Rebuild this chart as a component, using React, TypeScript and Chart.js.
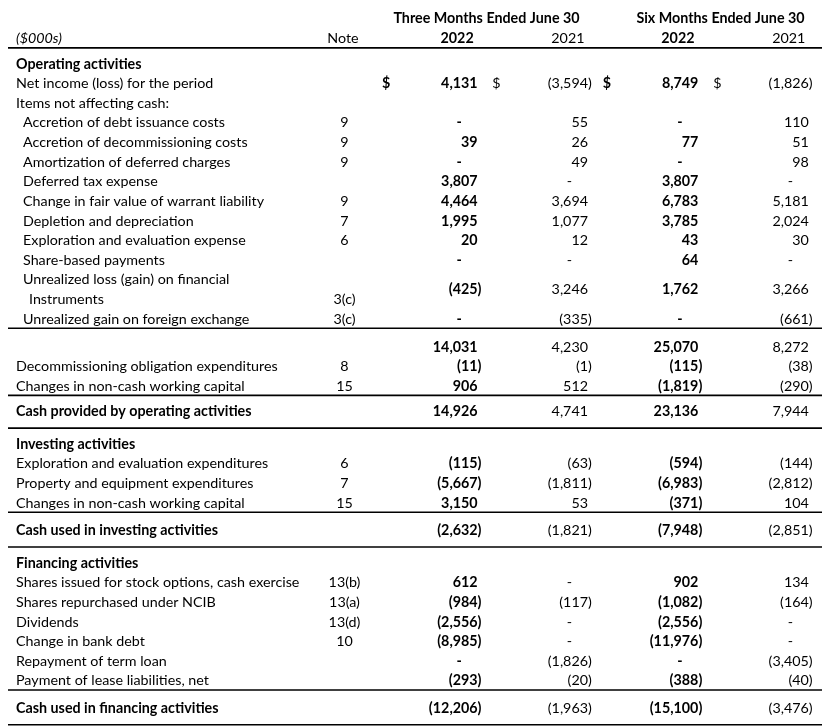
import React, { useEffect, useRef } from "react";
import { Chart, registerables } from "chart.js";

Chart.register(...registerables);

// ---------------- DATA ----------------
const unitLabel = "($000s)";
const noteHeader = "Note";
const periodHeaders = ["Three Months Ended June 30", "Six Months Ended June 30"];
const yearLabels = ["2022", "2021", "2022", "2021"];

const rowLabels: string[][] = [
  ["Operating activities"],
  ["Net income (loss) for the period"],
  ["Items not affecting cash:"],
  ["Accretion of debt issuance costs"],
  ["Accretion of decommissioning costs"],
  ["Amortization of deferred charges"],
  ["Deferred tax expense"],
  ["Change in fair value of warrant liability"],
  ["Depletion and depreciation"],
  ["Exploration and evaluation expense"],
  ["Share-based payments"],
  ["Unrealized loss (gain) on financial", "Instruments"],
  ["Unrealized gain on foreign exchange"],
  [""],
  ["Decommissioning obligation expenditures"],
  ["Changes in non-cash working capital"],
  ["Cash provided by operating activities"],
  ["Investing activities"],
  ["Exploration and evaluation expenditures"],
  ["Property and equipment expenditures"],
  ["Changes in non-cash working capital"],
  ["Cash used in investing activities"],
  ["Financing activities"],
  ["Shares issued for stock options, cash exercise"],
  ["Shares repurchased under NCIB"],
  ["Dividends"],
  ["Change in bank debt"],
  ["Repayment of term loan"],
  ["Payment of lease liabilities, net"],
  ["Cash used in financing activities"],
];

const rowNotes: string[] = [
  "", "", "", "9", "9", "9", "", "9", "7", "6", "", "3(c)", "3(c)", "", "8", "15",
  "", "", "6", "7", "15", "", "", "13(b)", "13(a)", "13(d)", "10", "", "", "",
];

type V = number | null | undefined; // null = "-", undefined = empty cell

const threeMonths2022: V[] = [
  undefined, 4131, undefined, null, 39, null, 3807, 4464, 1995, 20, null, -425, null,
  14031, -11, 906, 14926, undefined, -115, -5667, 3150, -2632, undefined,
  612, -984, -2556, -8985, null, -293, -12206,
];
const threeMonths2021: V[] = [
  undefined, -3594, undefined, 55, 26, 49, null, 3694, 1077, 12, null, 3246, -335,
  4230, -1, 512, 4741, undefined, -63, -1811, 53, -1821, undefined,
  null, -117, null, null, -1826, -20, -1963,
];
const sixMonths2022: V[] = [
  undefined, 8749, undefined, null, 77, null, 3807, 6783, 3785, 43, 64, 1762, null,
  25070, -115, -1819, 23136, undefined, -594, -6983, -371, -7948, undefined,
  902, -1082, -2556, -11976, null, -388, -15100,
];
const sixMonths2021: V[] = [
  undefined, -1826, undefined, 110, 51, 98, null, 5181, 2024, 30, null, 3266, -661,
  8272, -38, -290, 7944, undefined, -144, -2812, 104, -2851, undefined,
  134, -164, null, null, -3405, -40, -3476,
];

const columns: V[][] = [threeMonths2022, threeMonths2021, sixMonths2022, sixMonths2021];

// row roles
const sectionRows = [0, 17, 22];
const totalRows = [16, 21, 29];
const dollarRows = [1];
const rulesAfter = [12, 15, 16, 20, 21, 28, 29];

// ---------------- LAYOUT ----------------
const FONT = "Lato";
const SIZE = 14.3;
const gapBefore: Record<number, number> = { 13: 0.42, 16: 0.28, 17: 0.68, 21: 0.38, 22: 0.68, 29: 0.38 };
const indentRows = [3, 4, 5, 6, 7, 8, 9, 10, 11, 12];

const slots: number[] = [];
rowLabels.forEach((lines, i) => {
  if (i === 0) slots.push(0);
  else slots.push(slots[i - 1] + rowLabels[i - 1].length + (gapBefore[i] || 0));
});
const valueSlot = (i: number) => slots[i] + (rowLabels[i].length - 1) / 2;
const lastLineSlot = (i: number) => slots[i] + rowLabels[i].length - 1;

const fmt = (v: number) => {
  const s = Math.abs(v).toLocaleString("en-US");
  return v < 0 ? "(" + s : s;
};

const font = (bold: boolean, italic = false) =>
  `${italic ? "italic " : ""}${bold ? "bold " : ""}${SIZE}px ${FONT}`;

const tablePlugin = {
  id: "tableText",
  afterDatasetsDraw(chart: any) {
    const ctx: CanvasRenderingContext2D = chart.ctx;
    const xs = chart.scales.x;
    const ys = chart.scales.y;
    const L = chart.chartArea.left;
    ctx.save();
    ctx.fillStyle = "#000";
    ctx.textBaseline = "middle";

    // header
    const yH1 = ys.getPixelForValue(-2.34);
    const yH2 = ys.getPixelForValue(-1.33);
    ctx.font = font(true);
    ctx.textAlign = "center";
    ctx.fillText(periodHeaders[0], L + 486.5, yH1);
    ctx.fillText(periodHeaders[1], L + 720.5, yH1);
    ctx.font = font(false, true);
    ctx.textAlign = "left";
    ctx.fillText(unitLabel, L + 16, yH2);
    ctx.font = font(false);
    ctx.textAlign = "center";
    ctx.fillText(noteHeader, L + 343, yH2);
    yearLabels.forEach((lab, c) => {
      const px = xs.getPixelForValue(c);
      if (c % 2 === 0) {
        ctx.font = font(true);
        ctx.textAlign = "center";
        ctx.fillText(lab, px - 20.5, yH2);
      } else {
        ctx.font = font(false);
        ctx.textAlign = "right";
        ctx.fillText(lab, px - 3.5, yH2);
      }
    });

    // row labels + notes
    rowLabels.forEach((lines, i) => {
      const bold = sectionRows.includes(i) || totalRows.includes(i);
      ctx.font = font(bold);
      ctx.textAlign = "left";
      lines.forEach((t, k) => {
        let x = L + 16;
        if (indentRows.includes(i)) x = L + (k > 0 ? 29 : 23);
        ctx.fillText(t, x, ys.getPixelForValue(slots[i] + k));
      });
      if (rowNotes[i]) {
        ctx.font = font(false);
        ctx.textAlign = "center";
        ctx.fillText(rowNotes[i], L + 344.5, ys.getPixelForValue(lastLineSlot(i)));
      }
    });

    // values through dataset elements
    chart.data.datasets.forEach((ds: any, c: number) => {
      const meta = chart.getDatasetMeta(c);
      const bold = c % 2 === 0;
      meta.data.forEach((el: any, k: number) => {
        const pt = ds.data[k];
        const x = el.x;
        const y = el.y;
        ctx.font = font(bold);
        if (pt.v === null) {
          ctx.textAlign = "center";
          ctx.fillText("-", x - 18.5, y);
        } else {
          ctx.textAlign = "right";
          ctx.fillText(fmt(pt.v), x, y);
          if (pt.v < 0) {
            ctx.textAlign = "left";
            ctx.fillText(")", x, y);
          }
        }
        if (dollarRows.includes(pt.row)) {
          ctx.textAlign = "center";
          ctx.fillText("$", x - 91.5, y);
        }
      });
    });

    // rules
    ctx.strokeStyle = "#000";
    ctx.lineWidth = 1.6;
    const rule = (v: number) => {
      const y = ys.getPixelForValue(v);
      ctx.beginPath();
      ctx.moveTo(L + 8, y);
      ctx.lineTo(L + 822, y);
      ctx.stroke();
    };
    rule(-0.82);
    rulesAfter.forEach((i) => {
      rule(lastLineSlot(i) + (totalRows.includes(i) ? 0.86 : 0.47));
    });
    ctx.restore();
  },
};

export default function App() {
  const ref = useRef<HTMLCanvasElement | null>(null);
  useEffect(() => {
    if (!ref.current) return;
    const datasets = columns.map((col, c) => ({
      label: yearLabels[c],
      data: col
        .map((v, i) => ({ x: c, y: valueSlot(i), v, row: i }))
        .filter((p) => p.v !== undefined),
      pointRadius: 0,
      showLine: false,
    }));
    const chart = new Chart(ref.current, {
      type: "scatter",
      data: { datasets },
      options: {
        animation: false,
        responsive: false,
        events: [],
        layout: { padding: 0 },
        plugins: { legend: { display: false }, tooltip: { enabled: false }, title: { display: false } },
        scales: {
          x: { type: "linear", display: false, min: -477.6 / 110.4, max: -477.6 / 110.4 + 837 / 110.4 },
          y: { type: "linear", display: false, reverse: true, min: -64 / 19.62, max: (726 - 64) / 19.62 },
        },
      },
      plugins: [tablePlugin],
    } as any);
    return () => chart.destroy();
  }, []);
  return (
    <div style={{ position: "fixed", left: 0, top: 0, width: 837, height: 726, background: "#fff" }}>
      <canvas ref={ref} width={837} height={726} style={{ display: "block", width: 837, height: 726 }} />
    </div>
  );
}
